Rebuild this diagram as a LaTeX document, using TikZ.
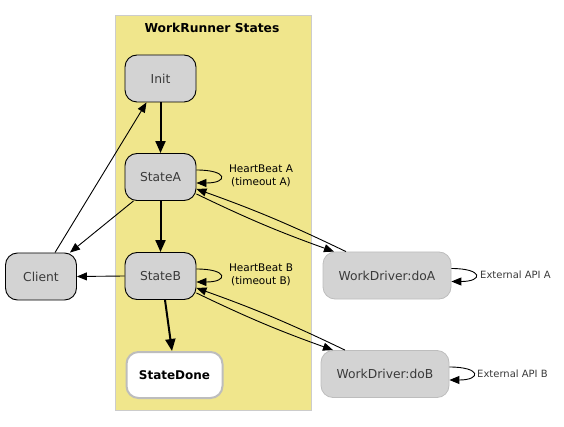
\documentclass[tikz,border=0pt]{standalone}
\usepackage{fontspec}
\setmainfont{DejaVu Sans}
\usetikzlibrary{arrows.meta}
\definecolor{clusterfill}{HTML}{F0E68C}
\definecolor{clusterline}{HTML}{CCCCCC}
\definecolor{nodefill}{HTML}{D3D3D3}
\definecolor{softline}{HTML}{BDBDBD}
\definecolor{nodetext}{HTML}{3A3A3A}
\tikzset{
  state/.style={draw=black, fill=nodefill, rounded corners=12pt, line width=0.9pt,
    minimum width=71pt, minimum height=47pt, inner sep=0pt,
    text=nodetext, font=\fontsize{12.3}{14}\selectfont},
  driver/.style={draw=softline, fill=nodefill, rounded corners=12pt, line width=0.8pt,
    minimum width=128pt, minimum height=47pt, inner sep=0pt,
    text=nodetext, font=\fontsize{12.3}{14}\selectfont},
  donestate/.style={draw=softline, fill=white, rounded corners=12pt, line width=2pt,
    minimum width=96pt, minimum height=46pt, inner sep=0pt,
    text=black, font=\bfseries\fontsize{12}{14}\selectfont},
  arr/.style={line width=0.9pt, -{Triangle[length=10pt,width=8pt]}},
  thickarr/.style={line width=2pt, -{Triangle[length=12pt,width=10pt]}},
  lbl/.style={font=\fontsize{10.5}{13.5}\selectfont, align=center, inner sep=0pt},
  smalllbl/.style={font=\fontsize{10}{12}\selectfont, text=nodetext, inner sep=0pt, anchor=west}
}
\begin{document}
\begin{tikzpicture}[x=1pt,y=1pt]
\useasboundingbox (0,0) rectangle (564,-427);
% cluster
\draw[clusterline, fill=clusterfill, line width=1pt] (115,-16) rectangle (311,-410);
\node[font=\bfseries\fontsize{12.3}{14}\selectfont, inner sep=0pt] (title) at (212,-28) {WorkRunner States};
% nodes
\node[state] (init) at (160.5,-78.5) {Init};
\node[state] (sA) at (160.5,-177) {StateA};
\node[state] (sB) at (160.5,-276) {StateB};
\node[donestate] (sDone) at (174.5,-375) {StateDone};
\node[state] (cl) at (41,-276.5) {Client};
\node[driver] (doA) at (387,-275.5) {WorkDriver:doA};
\node[driver] (doB) at (385,-374) {WorkDriver:doB};
% thick transitions
\draw[thickarr] (init) -- (sA);
\draw[thickarr] (sA) -- (sB);
\draw[thickarr] ([xshift=4.5pt]sB.south) -- ([xshift=-2.5pt]sDone.north);
% client edges
\draw[arr] ([xshift=14pt]cl.north) -- ([xshift=-14pt]init.south);
\draw[arr] ([xshift=-27pt]sA.south) -- ([xshift=29pt]cl.north);
\draw[arr] (sB.west) -- (cl.east);
% self loops
\draw[arr] ([yshift=7pt]sA.east) .. controls +(32,0) and +(32,0) .. ([yshift=-6pt]sA.east);
\node[lbl] (hbA) at (261,-176) {HeartBeat A\\(timeout A)};
\draw[arr] ([yshift=7pt]sB.east) .. controls +(32,0) and +(32,0) .. ([yshift=-6pt]sB.east);
\node[lbl] (hbB) at (261,-275) {HeartBeat B\\(timeout B)};
\draw[arr] ([yshift=7pt]doA.east) .. controls +(32,0) and +(32,0) .. ([yshift=-6pt]doA.east);
\node[smalllbl] (extA) at (480,-275) {External API A};
\draw[arr] ([yshift=7pt]doB.east) .. controls +(32,0) and +(32,0) .. ([yshift=-6pt]doB.east);
\node[smalllbl] (extB) at (477,-374) {External API B};
% driver edges
\draw[arr] ([xshift=-41pt]doA.north) to[bend right=3] ([yshift=-12pt]sA.east);
\draw[arr] ([yshift=-17pt]sA.east) to[bend right=3] ([xshift=-53pt]doA.north);
\draw[arr] ([xshift=-40pt]doB.north) to[bend right=3] ([yshift=-12pt]sB.east);
\draw[arr] ([yshift=-17pt]sB.east) to[bend right=3] ([xshift=-52pt]doB.north);
\end{tikzpicture}
\end{document}
